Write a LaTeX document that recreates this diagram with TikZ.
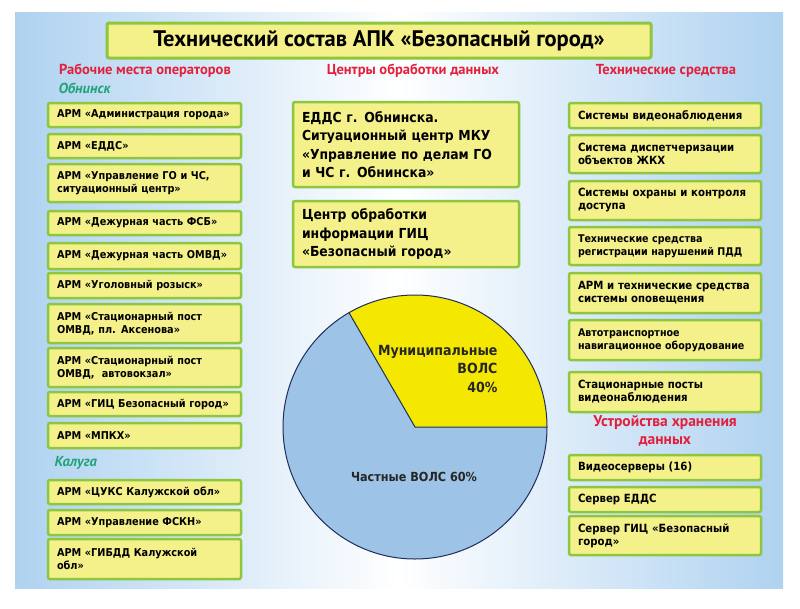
\documentclass[tikz,border=0pt]{standalone}
\usepackage{fontspec}
\usetikzlibrary{calc}
\setmainfont{DejaVu Sans}
\newfontfamily\bxf{DejaVu Sans Condensed}
\newfontfamily\hdf{PT Sans}
\definecolor{boxyellow}{HTML}{F4F08A}
\definecolor{boxgreen}{HTML}{8DC63F}
\definecolor{hdred}{HTML}{E3203C}
\definecolor{hdgreen}{HTML}{1FA37A}
\definecolor{bgblue}{HTML}{AFD2F0}
\definecolor{pieblue}{HTML}{9DC3E6}
\definecolor{pieyellow}{HTML}{F5E800}
\definecolor{pieline}{HTML}{1F2D5A}
\begin{document}
\begin{tikzpicture}[x=1pt,y=-1pt,
  box/.style={draw=boxgreen, line width=2.5pt, fill=boxyellow, rounded corners=2pt,
    inner xsep=9pt, inner ysep=2pt, align=left, text=black,
    font=\bxf\bfseries\fontsize{10.8}{12.7}\selectfont},
  lbox/.style={box, text width=175pt},
  rbox/.style={box, text width=174pt, font=\bxf\bfseries\fontsize{11.3}{13}\selectfont},
  rsmall/.style={font=\bxf\bfseries\fontsize{10.6}{13}\selectfont},
  mbox/.style={box, text width=208pt, font=\bxf\bfseries\fontsize{13.8}{18.3}\selectfont},
  hdr/.style={text=hdred, font=\hdf\bfseries\fontsize{14.5}{17}\selectfont},
  city/.style={text=hdgreen, font=\hdf\bfseries\itshape\fontsize{14.5}{17}\selectfont, anchor=west},
  pielbl/.style={text=black!85, font=\bxf\bfseries\fontsize{14}{18.5}\selectfont}
]
\useasboundingbox (0,0) rectangle (800,608);
\fill[white] (0,0) rectangle (800,608);
\shade[left color=bgblue, right color=bgblue, middle color=white] (15,12) rectangle (783,588);

% title
\node[draw=boxgreen, line width=3pt, fill=boxyellow, rounded corners=2pt,
  minimum width=544pt, minimum height=35pt, font=\hdf\bfseries\fontsize{22.5}{26}\selectfont]
  (title) at (379,40.5) {Технический состав АПК «Безопасный город»};

% headers
\node[hdr] (h1) at (145,71) {Рабочие места операторов};
\node[hdr] (h2) at (413,71) {Центры обработки данных};
\node[hdr] (h3) at (666,71) {Технические средства};
\node[city] (c1) at (55,88) {Обнинск};
\node[city] (c2) at (51,463) {Калуга};

% left column
\node[lbox, minimum height=24pt] (l1) at (144.5,115) {АРМ «Администрация города»};
\node[lbox, minimum height=24pt] (l2) at (144.5,146) {АРМ «ЕДДС»};
\node[lbox, minimum height=38pt] (l3) at (144.5,183) {АРМ «Управление ГО и ЧС,\\ситуационный центр»};
\node[lbox, minimum height=24pt] (l4) at (144.5,223) {АРМ «Дежурная часть ФСБ»};
\node[lbox, minimum height=26pt] (l5) at (144.5,256) {АРМ «Дежурная часть ОМВД»};
\node[lbox, minimum height=25pt] (l6) at (144.5,285.5) {АРМ «Уголовный розыск»};
\node[lbox, minimum height=39pt] (l7) at (144.5,323.5) {АРМ «Стационарный пост\\ОМВД, пл. Аксенова»};
\node[lbox, minimum height=39pt] (l8) at (144.5,367.5) {АРМ «Стационарный пост\\ОМВД,~ автовокзал»};
\node[lbox, minimum height=24pt] (l9) at (144.5,404) {АРМ «ГИЦ Безопасный город»};
\node[lbox, minimum height=25pt] (l10) at (144.5,435.5) {АРМ «МПКХ»};
\node[lbox, minimum height=24pt] (l11) at (144.5,492) {АРМ «ЦУКС Калужской обл»};
\node[lbox, minimum height=25pt] (l12) at (144.5,522.5) {АРМ «Управление ФСКН»};
\node[lbox, minimum height=40pt] (l13) at (144.5,559) {АРМ «ГИБДД Калужской\\обл»};

% middle
\node[mbox, minimum height=85pt] (m1) at (406,144.5) {ЕДДС г. Обнинска.\\Ситуационный центр МКУ\\«Управление по делам ГО\\и ЧС г. Обнинска»};
\node[mbox, minimum height=66pt] (m2) at (406,234) {Центр обработки\\информации ГИЦ\\«Безопасный город»};

% right column
\node[rbox, minimum height=25pt] (r1) at (665,115.5) {Системы видеонаблюдения};
\node[rbox, minimum height=38pt] (r2) at (665,154) {Система диспетчеризации\\объектов ЖКХ};
\node[rbox, minimum height=39pt] (r3) at (665,200.5) {Системы охраны и контроля\\доступа};
\node[rbox, rsmall, minimum height=38pt] (r4) at (665,246) {Технические средства\\регистрации нарушений ПДД};
\node[rbox, minimum height=40pt] (r5) at (665,293) {АРМ и технические средства\\системы оповещения};
\node[rbox, rsmall, minimum height=40pt] (r6) at (665,340) {Автотранспортное\\навигационное оборудование};
\node[rbox, minimum height=40pt] (r7) at (665,392) {Стационарные посты\\видеонаблюдения};
\node[hdr, align=center, font=\hdf\bfseries\fontsize{15.5}{17.5}\selectfont] (h4) at (665,431) {Устройства хранения\\данных};
\node[rbox, minimum height=25pt] (r8) at (665,467.5) {Видеосерверы (16)};
\node[rbox, minimum height=25pt] (r9) at (665,499.5) {Сервер ЕДДС};
\node[rbox, minimum height=39pt] (r10) at (665,535.5) {Сервер ГИЦ «Безопасный\\город»};

% pie
\coordinate (pc) at (415,427);
\fill[pieblue] (pc) circle[radius=132];
\fill[pieyellow] (pc) -- ++(132,0) arc[start angle=0, end angle=-120, radius=132] -- cycle;
\draw[pieline, line width=1pt] (pc) circle[radius=132];
\draw[pieline, line width=1pt] ($(pc)+(132,0)$) -- (pc) -- ++(-66,-114.3);
\node[pielbl, align=right, anchor=east] (p1) at (501,368.5) {Муниципальные\\ВОЛС\\40\%};
\node[pielbl, font=\bxf\bfseries\fontsize{12.5}{14}\selectfont] (p2) at (414,477) {Частные ВОЛС 60\%};
\end{tikzpicture}
\end{document}
